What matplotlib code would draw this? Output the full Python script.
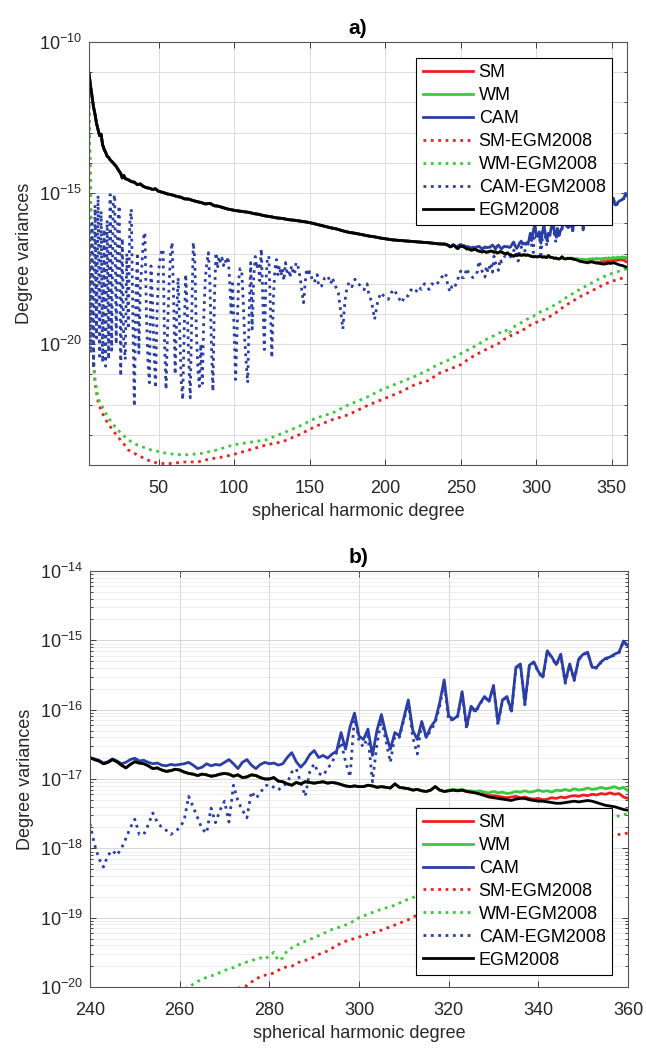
import numpy as np
import matplotlib
matplotlib.use("Agg")
import matplotlib.pyplot as plt
from matplotlib.ticker import FixedLocator, FuncFormatter, LogLocator, NullFormatter

plt.rcParams['font.family'] = ['Liberation Sans', 'DejaVu Sans']
plt.rcParams['mathtext.fontset'] = 'custom'
plt.rcParams['mathtext.rm'] = 'Liberation Sans'

# degree variances, stored as log10 exponents

# EGM2008, low degrees (sampled)
egm_deg_lo = [4, 5, 6, 7, 8, 9, 10, 11, 12, 13, 14, 15, 16, 17, 18, 20, 22, 23, 24, 25,
              26, 27, 28, 30, 32, 34, 36, 38, 40, 42, 44, 46, 48, 50, 53, 56, 59, 62, 65, 67,
              70, 73, 76, 78, 81, 84, 87, 89, 92, 95, 98, 101, 104, 107, 110, 113, 116, 120, 124, 128,
              132, 136, 140, 144, 148, 152, 156, 160, 164, 168, 172, 176, 180, 185, 189, 193, 197, 201, 205, 210,
              215, 220, 225, 230, 235]
egm_lo = [-11.04, -11.45, -11.80, -12.15, -12.40, -12.70, -12.90, -13.10, -13.05, -13.40,
          -13.55, -13.65, -13.78, -13.82, -13.90, -14.00, -14.12, -14.20, -14.28, -14.35,
          -14.50, -14.42, -14.52, -14.56, -14.62, -14.64, -14.72, -14.70, -14.78, -14.82,
          -14.84, -14.88, -14.86, -14.94, -14.98, -15.03, -15.06, -15.11, -15.14, -15.19,
          -15.20, -15.25, -15.29, -15.31, -15.36, -15.34, -15.42, -15.43, -15.47, -15.52,
          -15.55, -15.58, -15.60, -15.62, -15.64, -15.68, -15.70, -15.75, -15.78, -15.82,
          -15.84, -15.88, -15.90, -15.93, -15.96, -16.00, -16.05, -16.10, -16.15, -16.19,
          -16.25, -16.30, -16.33, -16.38, -16.42, -16.45, -16.49, -16.52, -16.55, -16.57,
          -16.59, -16.61, -16.63, -16.65, -16.68]

# degrees 240..360, one value per degree
deg_hi = list(range(240, 361))
egm_hi = [-16.69, -16.72, -16.74, -16.78, -16.76, -16.72, -16.75, -16.80, -16.84, -16.79,
          -16.75, -16.77, -16.78, -16.81, -16.85, -16.84, -16.87, -16.89, -16.88, -16.86,
          -16.87, -16.90, -16.92, -16.93, -16.95, -16.93, -16.94, -16.96, -16.95, -16.93,
          -16.92, -16.93, -16.96, -16.94, -16.98, -16.97, -16.94, -16.95, -16.98, -17.00,
          -17.00, -16.98, -17.03, -17.04, -17.07, -17.09, -17.05, -17.07, -17.04, -17.05,
          -17.06, -17.05, -17.04, -17.06, -17.05, -17.06, -17.08, -17.10, -17.11, -17.10,
          -17.11, -17.11, -17.09, -17.10, -17.12, -17.11, -17.12, -17.13, -17.07, -17.12,
          -17.13, -17.14, -17.16, -17.15, -17.17, -17.18, -17.16, -17.11, -17.16, -17.18,
          -17.17, -17.16, -17.17, -17.16, -17.18, -17.19, -17.20, -17.22, -17.24, -17.26,
          -17.27, -17.28, -17.29, -17.30, -17.31, -17.29, -17.28, -17.28, -17.30, -17.31,
          -17.32, -17.32, -17.33, -17.34, -17.35, -17.35, -17.34, -17.33, -17.32, -17.33,
          -17.32, -17.31, -17.32, -17.34, -17.36, -17.38, -17.39, -17.40, -17.42, -17.44,
          -17.45]
cam_hi = [-16.70, -16.71, -16.73, -16.77, -16.75, -16.71, -16.74, -16.78, -16.76, -16.72,
          -16.70, -16.74, -16.73, -16.76, -16.78, -16.77, -16.80, -16.81, -16.79, -16.80,
          -16.79, -16.78, -16.76, -16.80, -16.85, -16.83, -16.78, -16.81, -16.79, -16.80,
          -16.76, -16.72, -16.78, -16.85, -16.76, -16.72, -16.80, -16.85, -16.79, -16.76,
          -16.78, -16.77, -16.80, -16.78, -16.69, -16.62, -16.75, -16.83, -16.76, -16.65,
          -16.59, -16.69, -16.66, -16.70, -16.64, -16.60, -16.33, -16.57, -16.25, -16.05,
          -16.38, -16.43, -16.28, -16.66, -16.30, -16.07, -16.35, -16.57, -16.33, -16.38,
          -16.12, -15.86, -16.30, -16.43, -16.17, -16.40, -16.25, -16.16, -15.90, -15.57,
          -16.09, -16.14, -16.09, -15.74, -16.24, -15.95, -16.02, -15.91, -15.81, -15.88,
          -15.65, -16.19, -15.86, -15.81, -16.02, -15.39, -15.34, -15.91, -15.36, -15.31,
          -15.45, -15.53, -15.15, -15.24, -15.35, -15.20, -15.60, -15.34, -15.57, -15.27,
          -15.20, -15.17, -15.39, -15.39, -15.31, -15.26, -15.24, -15.20, -15.17, -15.01,
          -15.08]
cam_egm_hi = [-17.65, -17.94, -18.15, -18.27, -18.10, -18.03, -18.10, -18.00, -17.86, -17.70,
              -17.58, -17.80, -17.80, -17.66, -17.49, -17.62, -17.70, -17.74, -17.80, -17.76,
              -17.70, -17.60, -17.25, -17.40, -17.56, -17.72, -17.78, -17.42, -17.63, -17.45,
              -17.32, -17.62, -17.09, -17.32, -17.45, -17.56, -17.18, -17.28, -17.20, -17.10,
              -17.08, -17.12, -17.16, -17.10, -17.06, -16.90, -16.85, -17.05, -17.25, -16.90,
              -16.78, -16.92, -16.95, -16.85, -16.76, -16.62, -16.47, -16.75, -16.97, -16.09,
              -16.45, -16.54, -16.38, -17.04, -16.50, -16.14, -16.45, -16.76, -16.38, -16.40,
              -16.15, -15.90, -16.40, -16.64, -16.19, -16.40, -16.30, -16.19, -15.95, -15.60,
              -16.16, -16.14, -16.10, -15.75, -16.28, -15.96, -16.04, -15.92, -15.82, -15.89,
              -15.66, -16.22, -15.87, -15.82, -16.05, -15.40, -15.35, -15.93, -15.37, -15.32,
              -15.46, -15.55, -15.16, -15.25, -15.36, -15.21, -15.62, -15.35, -15.58, -15.28,
              -15.21, -15.18, -15.40, -15.40, -15.32, -15.27, -15.25, -15.21, -15.18, -15.02,
              -15.09]

# SM and WM lie on EGM2008 up to degree 319, these are degrees 320..360
sm_tail = [-17.17, -17.16, -17.17, -17.16, -17.18, -17.19, -17.20, -17.21, -17.22, -17.24,
           -17.24, -17.25, -17.26, -17.27, -17.26, -17.25, -17.27, -17.26, -17.28, -17.29,
           -17.28, -17.30, -17.29, -17.27, -17.28, -17.26, -17.27, -17.25, -17.24, -17.25,
           -17.23, -17.24, -17.22, -17.23, -17.21, -17.22, -17.20, -17.22, -17.21, -17.26,
           -17.28]
wm_tail = [-17.16, -17.15, -17.16, -17.15, -17.17, -17.17, -17.18, -17.17, -17.19, -17.20,
           -17.18, -17.20, -17.19, -17.21, -17.20, -17.18, -17.19, -17.17, -17.19, -17.18,
           -17.16, -17.18, -17.17, -17.19, -17.16, -17.17, -17.15, -17.17, -17.14, -17.16,
           -17.15, -17.13, -17.15, -17.14, -17.12, -17.14, -17.13, -17.11, -17.14, -17.12,
           -17.17]

# CAM-EGM2008, low degrees
cam_egm_deg_lo = list(range(4, 140)) + [140, 141, 142, 143, 144, 145, 146, 147, 148, 149, 150, 152, 153,
                                        155, 156, 158, 160, 162, 164, 165, 167, 169, 170, 171, 172, 173,
                                        174, 176, 178, 180, 182, 184, 186, 188, 189, 191, 193, 195, 197,
                                        199, 202, 204, 206, 208, 211, 213, 215, 217, 220, 222, 224, 226,
                                        229, 231, 233, 235, 237, 239]
cam_egm_lo = [-15.80, -20.30, -16.00, -20.80, -15.40, -19.80, -15.08, -20.40, -15.60, -20.60,
              -16.20, -20.73, -15.90, -20.50, -15.05, -20.20, -15.30, -15.05, -20.00, -16.00,
              -15.42, -21.06, -16.50, -20.00, -20.51, -17.00, -19.50, -16.00, -15.53, -19.00,
              -22.06, -18.50, -16.97, -20.30, -18.00, -17.40, -16.50, -16.30, -19.00, -20.60,
              -21.28, -17.41, -18.50, -20.20, -21.45, -19.00, -17.60, -17.20, -16.90, -16.85,
              -20.00, -21.50, -19.50, -18.00, -17.00, -16.63, -18.50, -21.00, -19.00, -17.80,
              -19.50, -21.20, -21.84, -19.50, -17.69, -18.80, -20.50, -21.78, -19.00, -16.63,
              -17.20, -19.50, -20.80, -21.40, -20.00, -21.30, -19.00, -17.80, -17.30, -16.97,
              -18.00, -20.00, -21.56, -18.50, -16.97, -17.50, -17.10, -17.30, -17.15, -17.40,
              -17.20, -17.35, -17.10, -17.80, -18.96, -18.00, -19.50, -21.17, -19.50, -17.90,
              -17.50, -17.52, -18.50, -19.80, -20.60, -21.28, -19.00, -17.30, -19.50, -17.80,
              -17.10, -17.50, -17.30, -17.90, -16.85, -18.50, -20.18, -18.00, -17.20, -17.08,
              -18.80, -20.45, -18.50, -17.52, -17.20, -17.70, -17.40, -17.74, -17.50, -17.90,
              -17.30, -17.60, -17.52, -17.80, -17.40, -17.60,
              -17.70, -17.30, -17.35, -17.60, -17.90, -18.30, -18.63, -18.00, -17.50, -17.74,
              -17.60, -17.90, -17.96, -17.70, -18.10, -18.07, -17.80, -17.74, -18.00, -17.80,
              -18.07, -18.30, -18.70, -19.10, -19.50, -18.80, -18.30, -17.96, -18.10, -17.85,
              -18.00, -18.07, -18.20, -18.00, -18.30, -18.60, -19.18, -18.60, -18.30, -18.40,
              -18.52, -18.30, -18.19, -18.40, -18.63, -18.40, -18.41, -18.20, -18.30, -18.10,
              -18.19, -18.00, -18.19, -18.00, -18.07, -17.96, -17.80, -17.70]

# SM-EGM2008 and WM-EGM2008 (sampled)
sm_egm_deg = [4, 5, 6, 7, 8, 10, 12, 15, 19, 23, 27, 30, 36, 43, 50, 58, 67, 76, 84, 93,
              102, 110, 121, 132, 143, 154, 165, 176, 187, 198, 209, 220, 229, 235, 240, 245, 250, 255, 260, 265,
              270, 273, 275, 277, 279, 281, 283, 285, 287, 289, 291, 293, 295, 297, 299, 301, 303, 305, 307, 309,
              311, 313, 316, 320, 325, 330, 335, 340, 345, 350, 355, 358, 360]
sm_egm = [-12.10, -15.00, -18.20, -20.60, -21.30, -21.90, -22.20, -22.50, -22.80, -23.06,
          -23.30, -23.50, -23.67, -23.84, -23.95, -23.95, -23.90, -23.90, -23.80, -23.73,
          -23.62, -23.50, -23.34, -23.23, -23.00, -22.72, -22.50, -22.33, -22.06, -21.83,
          -21.61, -21.33, -21.20, -20.98, -20.88, -20.78, -20.68, -20.50, -20.35, -20.22,
          -20.10, -20.02, -19.98, -19.88, -19.83, -19.80, -19.72, -19.70, -19.63, -19.60,
          -19.53, -19.48, -19.40, -19.34, -19.30, -19.26, -19.22, -19.18, -19.13, -19.08,
          -19.03, -18.96, -18.84, -18.70, -18.55, -18.40, -18.28, -18.15, -18.02, -17.92,
          -17.84, -17.80, -17.78]
wm_egm_deg = [4, 5, 6, 7, 8, 10, 15, 19, 23, 30, 36, 45, 56, 67, 78, 89, 99, 110, 121, 132,
              143, 154, 165, 176, 187, 198, 209, 220, 229, 235, 241, 251, 262, 264, 266, 268, 270, 272, 274, 276,
              278, 279, 281, 282, 283, 284, 286, 288, 290, 292, 294, 296, 298, 300, 302, 304, 306, 308, 310, 312,
              314, 317, 320, 325, 330, 335, 340, 345, 350, 355, 358, 360]
wm_egm = [-12.10, -15.00, -18.00, -20.30, -21.20, -21.80, -22.28, -22.60, -22.84, -23.17,
          -23.34, -23.50, -23.62, -23.67, -23.62, -23.50, -23.34, -23.25, -23.17, -22.95,
          -22.72, -22.45, -22.28, -22.00, -21.78, -21.50, -21.28, -21.06, -20.84, -20.67,
          -20.55, -20.29, -20.00, -19.92, -19.86, -19.82, -19.76, -19.72, -19.66, -19.62,
          -19.58, -19.60, -19.50, -19.62, -19.58, -19.47, -19.40, -19.34, -19.29, -19.23,
          -19.17, -19.13, -19.08, -19.00, -18.95, -18.90, -18.86, -18.82, -18.76, -18.71,
          -18.66, -18.55, -18.45, -18.30, -18.15, -18.02, -17.88, -17.76, -17.66, -17.58,
          -17.53, -17.50]

labels = ['SM', 'WM', 'CAM', 'SM-EGM2008', 'WM-EGM2008', 'CAM-EGM2008', 'EGM2008']
red, green, blue = '#f01e1e', '#3cc83c', '#2a3ea6'

# full curves
deg_all = np.array(egm_deg_lo + deg_hi)
egm = np.array(egm_lo + egm_hi)
cam = np.array(egm_lo + cam_hi)
n_sm = len(egm_lo) + 80
sm = np.concatenate([egm[:n_sm], sm_tail])
wm = np.concatenate([egm[:n_sm], wm_tail])
cam_egm_deg = np.array(cam_egm_deg_lo + deg_hi)
cam_egm = np.array(cam_egm_lo + cam_egm_hi)

series = [
    (deg_all, sm, red, '-'),
    (deg_all, wm, green, '-'),
    (deg_all, cam, blue, '-'),
    (np.array(sm_egm_deg), np.array(sm_egm), red, ':'),
    (np.array(wm_egm_deg), np.array(wm_egm), green, ':'),
    (cam_egm_deg, cam_egm, blue, ':'),
    (deg_all, egm, 'black', '-'),
]


def draw(ax):
    for (x, y, c, ls), lab in zip(series, labels):
        ax.semilogy(x, 10.0 ** y, color=c, linestyle=ls, lw=2.0, label=lab)
    ax.tick_params(which='both', direction='in', top=True, right=True,
                   labelsize=13, colors='#262626', width=0.6)
    ax.tick_params(which='major', length=4)
    ax.tick_params(which='minor', length=2.5)
    for s in ax.spines.values():
        s.set_color('#555555')
        s.set_linewidth(0.8)
    ax.set_xlabel('spherical harmonic degree', fontsize=13, color='#262626', labelpad=4)
    ax.set_ylabel('Degree variances', fontsize=13, color='#262626', labelpad=4)
    ax.tick_params(axis='x', pad=11)
    ax.tick_params(axis='y', pad=5)
    ax.set_axisbelow(True)


def add_legend(ax, loc, y_px):
    leg = ax.legend(loc=loc, bbox_to_anchor=(612 / 646, 1 - y_px / 1052),
                    bbox_transform=fig.transFigure, borderaxespad=0, fontsize=13,
                    fancybox=False, framealpha=1, edgecolor='black', handlelength=2.8,
                    handletextpad=0.3, labelspacing=0.33, borderpad=0.35)
    leg.get_frame().set_linewidth(0.8)


fig = plt.figure(figsize=(6.46, 10.52), dpi=100)

# a) full degree range
ax1 = fig.add_axes([89 / 646, 1 - 465 / 1052, 538 / 646, 423 / 1052])
draw(ax1)
ax1.set_xlim(4, 360)
ax1.set_ylim(1e-24, 1e-10)
ax1.set_xticks([50, 100, 150, 200, 250, 300, 350])
ax1.yaxis.set_major_locator(FixedLocator([1e-20, 1e-15, 1e-10]))
ax1.yaxis.set_minor_locator(FixedLocator([10.0 ** k for k in range(-24, -9)]))
ax1.yaxis.set_minor_formatter(NullFormatter())
ax1.yaxis.set_major_formatter(FuncFormatter(lambda v, p: r'$\mathdefault{10^{%d}}$' % round(np.log10(v))))
ax1.grid(True, which='both', color='#dcdcdc', lw=0.7)
ax1.set_title('a)', fontsize=15, fontweight='bold', pad=6)
add_legend(ax1, 'upper right', 58)

# b) zoom on the high degrees
ax2 = fig.add_axes([90 / 646, 1 - 987 / 1052, 538 / 646, 416 / 1052])
draw(ax2)
ax2.set_xlim(240, 360)
ax2.set_ylim(1e-20, 1e-14)
ax2.set_xticks([240, 260, 280, 300, 320, 340, 360])
ax2.yaxis.set_major_locator(LogLocator(base=10, numticks=10))
ax2.yaxis.set_minor_locator(LogLocator(base=10, subs=np.arange(2, 10), numticks=10))
ax2.yaxis.set_minor_formatter(NullFormatter())
ax2.grid(True, which='major', color='#d6d6d6', lw=0.7)
ax2.grid(True, which='minor', axis='y', color='#e8e8e8', lw=0.5)
ax2.set_title('b)', fontsize=15, fontweight='bold', pad=6)
add_legend(ax2, 'lower right', 975)

fig.savefig('out.png', dpi=100)
